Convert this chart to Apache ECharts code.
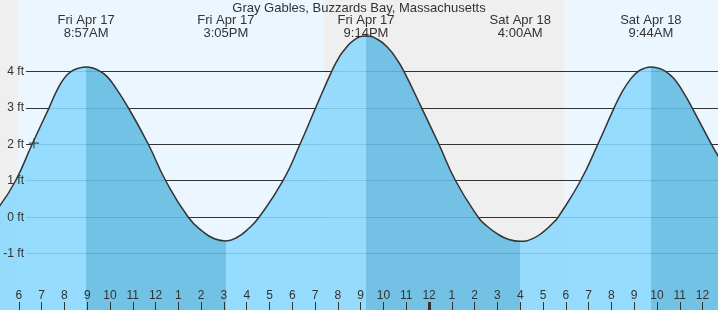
<!DOCTYPE html>
<html><head><meta charset="utf-8">
<script src="https://cdn.jsdelivr.net/npm/echarts@6/dist/echarts.min.js"></script>
<style>html,body{margin:0;padding:0;background:#ecf6fe;overflow:hidden}#c{width:718px;height:310px}</style>
</head><body><div id="c"></div>
<script>
// Times are hours counted from Fri Apr 17, 00:00
const tideTimes  = [5.134, 5.857, 6.581, 7.327, 7.65, 8.0, 8.3, 8.65, 8.95, 9.25, 9.564, 9.85, 10.15, 10.805, 11.682, 12.445,
                    13.436, 14.083, 14.583, 15.083, 15.583, 16.083, 16.537, 17.590, 18.336, 19.024, 19.726, 19.983, 20.233,
                    20.733, 21.233, 21.733, 22.233, 22.583, 22.897, 23.673, 24.432, 25.164, 26.156, 26.5, 27.0, 27.5, 28.0,
                    28.5, 29.0, 29.5, 29.665, 30.647, 31.406, 32.121, 32.483, 32.833, 33.173, 33.433, 33.733, 34.033,
                    34.375, 34.733, 35.133, 35.542, 36.393, 36.7];
const tideLevels = [0.29, 1.0, 2.0, 3.0, 3.45, 3.82, 4.0, 4.09, 4.12, 4.09, 4.0, 3.87, 3.64, 3.0, 2.0, 1.0,
                    0.0, -0.40, -0.59, -0.65, -0.55, -0.31, 0.0, 1.0, 2.0, 3.0, 4.0, 4.31, 4.55,
                    4.87, 4.97, 4.88, 4.62, 4.33, 4.0, 3.0, 2.0, 1.0, 0.0, -0.22, -0.46, -0.61, -0.66,
                    -0.60, -0.41, -0.12, 0.0, 1.0, 2.0, 3.0, 3.45, 3.78, 4.0, 4.08, 4.12, 4.09,
                    4.0, 3.81, 3.45, 3.0, 2.0, 1.66];
const eventTimes = [8.95, 15.083, 21.233, 28.0, 33.733];
const eventTypes = ['H', 'L', 'H', 'L', 'H'];
const eventDays  = ['Fri Apr 17', 'Fri Apr 17', 'Fri Apr 17', 'Sat Apr 18', 'Sat Apr 18'];
const eventClock = ['8:57AM', '3:05PM', '9:14PM', '4:00AM', '9:44AM'];
const nightStarts = [0, 19.4];
const nightEnds   = [5.97, 29.93];
const hourTicks  = [6,7,8,9,10,11,12,13,14,15,16,17,18,19,20,21,22,23,24,25,26,27,28,29,30,31,32,33,34,35,36];
const hourLabels = ['6','7','8','9','10','11','12','1','2','3','4','5','6','7','8','9','10','11','12','1','2','3','4','5','6','7','8','9','10','11','12'];
const dayBoundaries = [24];
const levelTicks = [-1, 0, 1, 2, 3, 4];
const nowPoint = [6.665, 2.03];
const xMin = 5.173, xMax = 36.678, yMin = -2.545, yMax = 5.957;
const titleText = 'Gray Gables, Buzzards Bay, Massachusetts';

const LIGHT = '#8ad8fd', DARK = '#62bbe3', INK = '#333333';
const FONT = 'Liberation Sans';

const levelData = tideTimes.map((t, i) => [t, tideLevels[i]]);
const pieces = [];
for (let i = 0; i <= eventTimes.length; i++) {
  const p = {};
  if (i > 0) p.gte = eventTimes[i - 1];
  if (i < eventTimes.length) p.lt = eventTimes[i];
  p.color = (i > 0 && eventTypes[i - 1] === 'H') ? DARK : LIGHT;
  pieces.push(p);
}
const nightAreas = nightStarts.map((s, i) => [{xAxis: s}, {xAxis: nightEnds[i]}]);
const closest = (arr, v) => { let b = 0; arr.forEach((a, i) => { if (Math.abs(a - v) < Math.abs(arr[b] - v)) b = i; }); return b; };

const chart = echarts.init(document.getElementById('c'), null, {renderer: 'canvas'});
chart.setOption({
  animation: false,
  backgroundColor: '#ecf6fe',
  textStyle: {fontFamily: FONT},
  title: {text: titleText, left: 'center', top: 0, padding: [2, 0, 0, 0],
          textStyle: {fontSize: 13, fontWeight: 'normal', color: INK, fontFamily: FONT, lineHeight: 13}},
  grid: [
    {left: 0, right: 0, top: 0, bottom: 0},
    {left: 26, right: 0, top: 0, bottom: 0},
    {left: 0, right: 0, top: 0, bottom: 0}
  ],
  visualMap: {type: 'piecewise', show: false, dimension: 0, seriesIndex: 0, pieces: pieces},
  xAxis: [
    {gridIndex: 0, type: 'value', min: xMin, max: xMax, position: 'bottom', z: 10,
     axisLine: {show: false, onZero: false}, splitLine: {show: false},
     axisTick: {show: true, inside: true, length: 8, customValues: hourTicks, lineStyle: {color: INK, width: 1}},
     axisLabel: {show: true, inside: true, margin: 8, customValues: hourTicks, fontSize: 12, color: INK, fontFamily: FONT,
                 formatter: v => hourLabels[closest(hourTicks, v)]}},
    {gridIndex: 0, type: 'value', min: xMin, max: xMax, position: 'top', z: 10,
     axisLine: {show: false, onZero: false}, splitLine: {show: false}, axisTick: {show: false},
     axisLabel: {show: true, inside: true, margin: 14, customValues: eventTimes, fontSize: 13, lineHeight: 13, color: INK,
                 fontFamily: FONT, align: 'center',
                 formatter: v => { const i = closest(eventTimes, v); return eventDays[i] + '\n' + eventClock[i]; }}},
    {gridIndex: 1, type: 'value', min: xMin, max: xMax, show: false},
    {gridIndex: 2, type: 'value', min: xMin, max: xMax, position: 'bottom', z: 10,
     axisLine: {show: false, onZero: false}, splitLine: {show: false}, axisLabel: {show: false},
     axisTick: {show: true, inside: true, length: 8, customValues: dayBoundaries, lineStyle: {color: INK, width: 3}}}
  ],
  yAxis: [
    {gridIndex: 0, type: 'value', min: yMin, max: yMax, z: 10,
     axisLine: {show: false, onZero: false}, axisTick: {show: false}, splitLine: {show: false},
     axisLabel: {show: true, inside: true, align: 'right', margin: 24, customValues: levelTicks, fontSize: 12, color: INK,
                 fontFamily: FONT, formatter: v => v + ' ft'}},
    {gridIndex: 1, type: 'value', min: yMin, max: yMax,
     axisLine: {show: false, onZero: false}, axisLabel: {show: false},
     axisTick: {show: false, customValues: levelTicks},
     splitLine: {show: true, lineStyle: {color: INK, width: 1}}},
    {gridIndex: 2, type: 'value', min: yMin, max: yMax, show: false}
  ],
  series: [
    {type: 'line', xAxisIndex: 0, yAxisIndex: 0, data: levelData, smooth: 0.5, showSymbol: false, z: 2,
     lineStyle: {width: 0}, areaStyle: {opacity: 0.88, origin: 'start'},
     markArea: {silent: true, z: -10, itemStyle: {color: '#efefef'}, data: nightAreas}},
    {type: 'line', xAxisIndex: 0, yAxisIndex: 0, data: levelData, smooth: 0.5, showSymbol: false, z: 3,
     lineStyle: {color: INK, width: 1.5}},
    {type: 'scatter', xAxisIndex: 0, yAxisIndex: 0, data: [nowPoint], z: 5,
     symbol: 'path://M0,5L10,5M5,0L5,10', symbolSize: 10,
     itemStyle: {color: 'none', borderColor: INK, borderWidth: 1.2}}
  ]
});
</script></body></html>
